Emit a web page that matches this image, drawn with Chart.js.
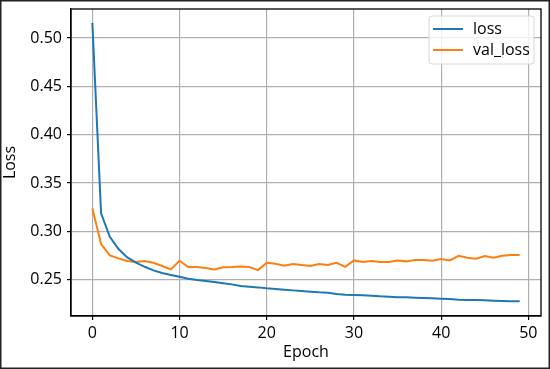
<!DOCTYPE html>
<html>
<head>
<meta charset="utf-8">
<script src="https://cdn.jsdelivr.net/npm/chart.js@4.4.0/dist/chart.umd.min.js"></script>
<style>
  html, body { margin: 0; padding: 0; background: #fff; }
  #wrap { width: 550px; height: 369px; position: relative; }
</style>
</head>
<body>
<div id="wrap"><canvas id="lossChart" width="550" height="369"></canvas></div>
<script>
const epochs = [0, 1, 2, 3, 4, 5, 6, 7, 8, 9, 10, 11, 12, 13, 14, 15, 16, 17, 18, 19,
  20, 21, 22, 23, 24, 25, 26, 27, 28, 29, 30, 31, 32, 33, 34, 35, 36, 37, 38, 39,
  40, 41, 42, 43, 44, 45, 46, 47, 48, 49];

const loss = [0.5155, 0.3186, 0.2944, 0.2817, 0.2731, 0.2676, 0.2634, 0.2597, 0.2569, 0.2549,
  0.2531, 0.2510, 0.2497, 0.2487, 0.2476, 0.2463, 0.2452, 0.2435, 0.2428, 0.2421,
  0.2411, 0.2404, 0.2397, 0.2390, 0.2383, 0.2376, 0.2370, 0.2366, 0.2352, 0.2345,
  0.2342, 0.2339, 0.2335, 0.2328, 0.2325, 0.2318, 0.2318, 0.2314, 0.2311, 0.2308,
  0.2304, 0.2301, 0.2293, 0.2290, 0.2290, 0.2287, 0.2283, 0.2280, 0.2277, 0.2277];

const valLoss = [0.3238, 0.2869, 0.2752, 0.2721, 0.2693, 0.2683, 0.2693, 0.2676, 0.2642, 0.2607,
  0.2696, 0.2631, 0.2631, 0.2621, 0.2607, 0.2628, 0.2631, 0.2638, 0.2631, 0.2600,
  0.2676, 0.2665, 0.2645, 0.2662, 0.2652, 0.2642, 0.2662, 0.2652, 0.2676, 0.2634,
  0.2700, 0.2683, 0.2693, 0.2683, 0.2683, 0.2700, 0.2690, 0.2703, 0.2703, 0.2696,
  0.2714, 0.2700, 0.2748, 0.2727, 0.2717, 0.2745, 0.2727, 0.2748, 0.2755, 0.2755];

const xTicks = [0, 10, 20, 30, 40, 50];
const yTicks = [0.25, 0.30, 0.35, 0.40, 0.45, 0.50];

const FONT = "'Open Sans', 'DejaVu Sans', sans-serif";

// matplotlib-ish legend box + spines + outer frame
const extrasPlugin = {
  id: 'extras',
  afterDraw(chart) {
    const ctx = chart.ctx;
    const a = chart.chartArea;
    ctx.save();
    // spines on all four sides
    ctx.strokeStyle = '#000';
    ctx.lineWidth = 1.3;
    ctx.strokeRect(a.left, a.top, a.right - a.left, a.bottom - a.top);

    // legend
    const bx = 429, by = 16, bw = 105, bh = 48, r = 3;
    ctx.beginPath();
    ctx.moveTo(bx + r, by);
    ctx.arcTo(bx + bw, by, bx + bw, by + bh, r);
    ctx.arcTo(bx + bw, by + bh, bx, by + bh, r);
    ctx.arcTo(bx, by + bh, bx, by, r);
    ctx.arcTo(bx, by, bx + bw, by, r);
    ctx.closePath();
    ctx.fillStyle = 'rgba(255,255,255,0.8)';
    ctx.fill();
    ctx.strokeStyle = '#d6d6d6';
    ctx.lineWidth = 1;
    ctx.stroke();

    ctx.font = '16px ' + FONT;
    ctx.textBaseline = 'middle';
    ctx.textAlign = 'left';
    chart.data.datasets.forEach((ds, i) => {
      const y = 29 + i * 21;
      ctx.strokeStyle = ds.borderColor;
      ctx.lineWidth = 2;
      ctx.beginPath();
      ctx.moveTo(433, y);
      ctx.lineTo(463, y);
      ctx.stroke();
      ctx.fillStyle = '#000';
      ctx.fillText(ds.label, 473, y);
    });

    // outer picture frame
    ctx.strokeStyle = '#222';
    ctx.lineWidth = 1.5;
    ctx.strokeRect(0.75, 0.75, chart.width - 1.5, chart.height - 1.5);
    ctx.restore();
  }
};

const ctx = document.getElementById('lossChart').getContext('2d');
new Chart(ctx, {
  type: 'line',
  data: {
    datasets: [{
      label: 'loss',
      data: epochs.map((e, i) => ({ x: e, y: loss[i] })),
      borderColor: '#1f77b4',
      borderWidth: 2,
      pointRadius: 0,
      tension: 0,
      fill: false
    }, {
      label: 'val_loss',
      data: epochs.map((e, i) => ({ x: e, y: valLoss[i] })),
      borderColor: '#ff7f0e',
      borderWidth: 2,
      pointRadius: 0,
      tension: 0,
      fill: false
    }]
  },
  options: {
    responsive: false,
    animation: false,
    devicePixelRatio: 1,
    layout: { padding: { left: 0, right: 9, top: 9, bottom: 0 } },
    plugins: {
      legend: { display: false },
      tooltip: { enabled: false }
    },
    scales: {
      x: {
        type: 'linear',
        min: -2.45,
        max: 51.45,
        afterBuildTicks: scale => { scale.ticks = xTicks.map(v => ({ value: v })); },
        afterFit: scale => { scale.height = 53; scale.paddingLeft = 0; scale.paddingRight = 0; },
        grid: { color: '#b0b0b0', lineWidth: 1.2, drawTicks: true, tickLength: 4, tickColor: '#000' },
        border: { display: true, color: '#000', width: 1.3 },
        ticks: { color: '#000', font: { family: FONT, size: 16 }, padding: 4, maxRotation: 0 },
        title: { display: true, text: 'Epoch', color: '#000', font: { family: FONT, size: 16 }, padding: { top: 0, bottom: 7.4 } }
      },
      y: {
        min: 0.2125,
        max: 0.5300,
        afterBuildTicks: scale => { scale.ticks = yTicks.map(v => ({ value: v })); },
        afterFit: scale => { scale.width = 71; scale.paddingTop = 0; scale.paddingBottom = 0; },
        grid: { color: '#b0b0b0', lineWidth: 1.2, drawTicks: true, tickLength: 4, tickColor: '#000' },
        border: { display: true, color: '#000', width: 1.3 },
        ticks: { color: '#000', font: { family: FONT, size: 16 }, padding: 5, callback: v => v.toFixed(2) },
        title: { display: true, text: 'Loss', color: '#000', font: { family: FONT, size: 16 }, padding: { top: 1, bottom: 0 } }
      }
    }
  },
  plugins: [extrasPlugin]
});
</script>
</body>
</html>
